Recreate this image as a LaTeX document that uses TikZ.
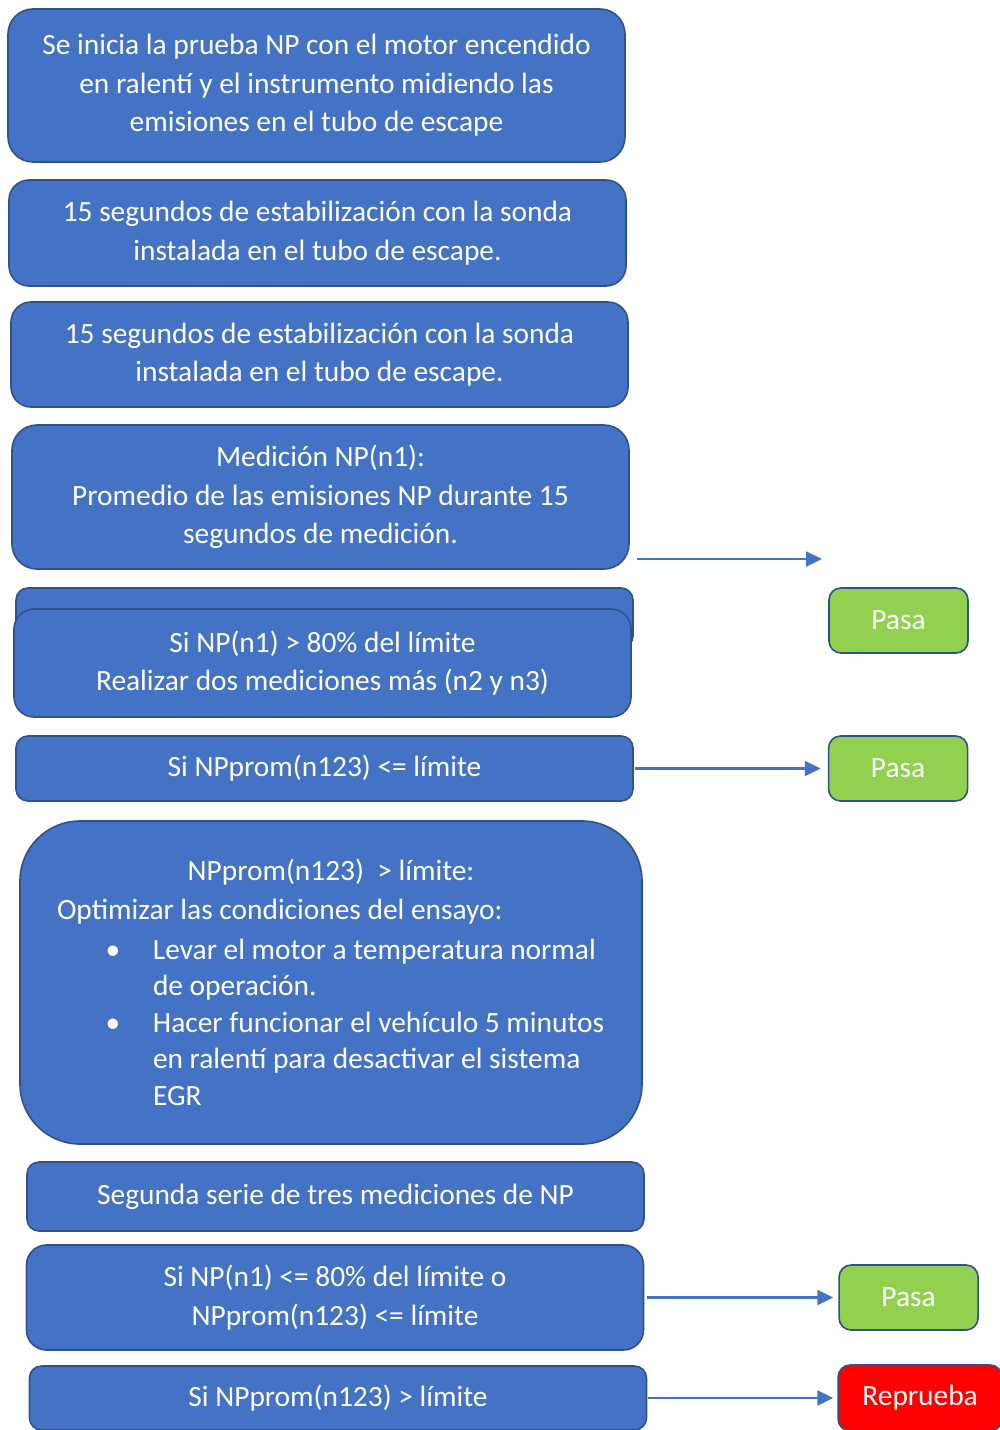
\documentclass[tikz,border=0pt]{standalone}
\usepackage{fontspec}
\setmainfont{Carlito}
\usetikzlibrary{arrows.meta}
\usetikzlibrary{positioning}

\definecolor{azul}{HTML}{4472C4}
\definecolor{borde}{HTML}{2F528F}
\definecolor{verde}{HTML}{92D050}
\definecolor{rojo}{HTML}{FF0000}

\tikzset{
  paso/.style={draw=borde, line width=1.6pt, fill=azul, text=white, rounded corners=20pt,
    align=center, inner sep=0pt, minimum width=617pt, font=\fontsize{29.4}{38.5}\selectfont},
  resultado/.style={draw=borde, line width=1.6pt, text=white, rounded corners=12pt,
    minimum width=139pt, minimum height=65pt, inner sep=0pt, font=\fontsize{29.4}{32}\selectfont},
  flecha/.style={-{Triangle[length=16pt,width=15pt]}, draw=azul, line width=2.2pt},
}

\begin{document}
\begin{tikzpicture}[x=1pt,y=-1pt]
        \useasboundingbox (0,0) rectangle (999,1430);

        \node[paso, minimum height=153pt, rounded corners=25pt] (inicio) at (316.5,85.5) {Se inicia la prueba NP con el motor encendido\\en ralentí y el instrumento midiendo las\\emisiones en el tubo de escape};
        \node[paso, minimum height=106pt] (estab1) at (317.5,233) {15 segundos de estabilización con la sonda\\instalada en el tubo de escape.};
        \node[paso, minimum height=105pt] (estab2) at (319.5,354.5) {15 segundos de estabilización con la sonda\\instalada en el tubo de escape.};
        \node[paso, minimum height=144pt, rounded corners=25pt] (medn1) at (320.5,497) {Medición NP(n1):\\Promedio de las emisiones NP durante 15\\segundos de medición.};

        % caja de atras, tapada por siN1
        \node[paso, minimum height=60pt, rounded corners=12pt] (atras) at (324.5,618) {};
        \node[paso, minimum height=108pt] (siN1) at (322.5,663) {Si NP(n1) > 80\% del límite\\Realizar dos mediciones más (n2 y n3)};
        \node[resultado, fill=verde] (pasa1) at (898.5,620.5) {Pasa};

        \node[paso, minimum height=65pt, rounded corners=12pt] (siprom) at (324.5,768.5) {Si NPprom(n123) <= límite};
        \node[resultado, fill=verde, right=194pt of siprom] (pasa2) {Pasa};

        \node[paso, minimum width=622pt, minimum height=323pt, rounded corners=60pt,
              font=\fontsize{29.4}{36.5}\selectfont] (optim) at (331,982.5) {%
          \makebox[585pt]{NPprom(n123)\ \ > límite:}\\[2.5pt]
          \makebox[585pt][l]{\hspace*{18.5pt}Optimizar las condiciones del ensayo:}\\[3pt]
          \makebox[585pt][l]{\hspace*{67pt}\makebox[47.5pt][l]{•}Levar el motor a temperatura normal}\\
          \makebox[585pt][l]{\hspace*{114.5pt}de operación.}\\
          \makebox[585pt][l]{\hspace*{67pt}\makebox[47.5pt][l]{•}Hacer funcionar el vehículo 5 minutos}\\
          \makebox[585pt][l]{\hspace*{114.5pt}en ralentí para desactivar el sistema}\\
          \makebox[585pt][l]{\hspace*{114.5pt}EGR}};

        \node[paso, minimum height=69pt, rounded corners=12pt] (segunda) at (335.5,1196.5) {Segunda serie de tres mediciones de NP};
        \node[paso, minimum height=105pt] (siN1b) at (335,1297.5) {Si NP(n1) <= 80\% del límite o\\NPprom(n123) <= límite};
        \node[resultado, fill=verde, right=194pt of siN1b] (pasa3) {Pasa};

        \node[paso, minimum height=64pt, rounded corners=12pt] (siprom2) at (338,1398) {Si NPprom(n123) > límite};
        \node[resultado, fill=rojo, minimum width=164pt, minimum height=66pt, right=190pt of siprom2] (reprueba) {Reprueba};

        %% flechas
        \coordinate (libre) at (822,559);
        \draw[flecha] ([xshift=7pt,yshift=-62pt]medn1.east) -- (libre);
        \draw[flecha, shorten >=7pt] ([xshift=1pt]siprom.east) -- (pasa2.west);
        \draw[flecha, shorten >=5pt, shorten <=3pt] (siN1b.east) -- (pasa3.west);
        \draw[flecha, shorten >=4pt] ([xshift=1pt]siprom2.east) -- (reprueba.west);
\end{tikzpicture}
\end{document}
